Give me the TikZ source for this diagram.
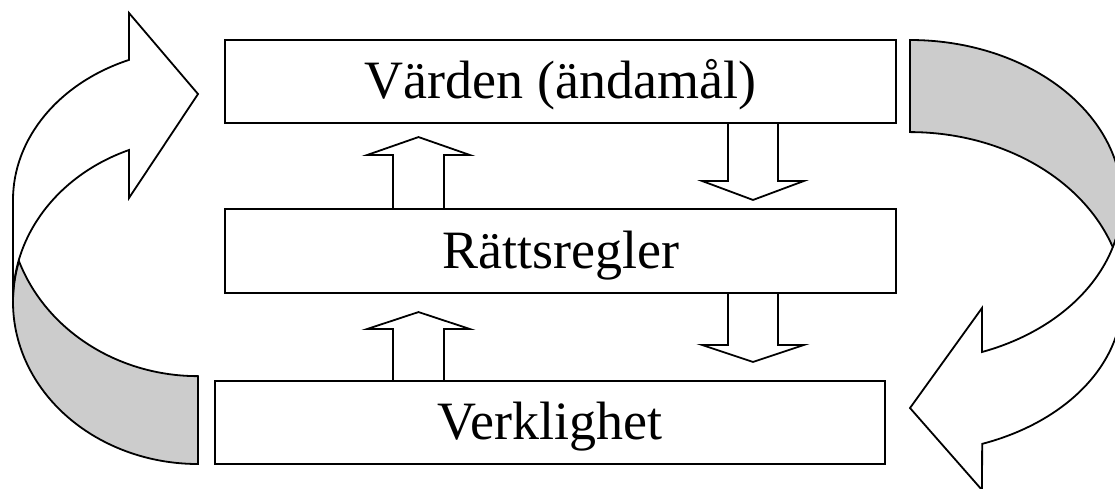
\documentclass[tikz,border=0pt]{standalone}
\usepackage{fontspec}
\setmainfont{Liberation Serif}
\begin{document}
\begin{tikzpicture}[x=1pt,y=-1pt,
  box/.style={draw, line width=1.9pt, inner sep=0pt, text height=40pt, text depth=6pt,
              font=\fontsize{54}{60}\selectfont},
  hollow/.style={draw, line width=1.8pt, line join=miter},
  back/.style={draw, fill=black!20, line width=1.8pt, line join=miter},
  front/.style={draw, fill=white, line width=1.8pt, line join=miter}]
\useasboundingbox (0,0) rectangle (1115,488);
\fill[white] (0,0) rectangle (1115,488);
\clip (0,0) rectangle (1115,488);

% the three levels
\node[box, minimum width=671pt, minimum height=83pt] (top) at (560.5,81.5) {Värden (ändamål)};
\node[box, minimum width=671pt, minimum height=84pt] (mid) at (560.5,251) {Rättsregler};
\node[box, minimum width=670pt, minimum height=83pt] (bot) at (550,422.5) {Verklighet};

% upward block arrows
\draw[hollow] ([xshift=-142pt]mid.north) ++(-25.5,0) -- ++(0,-53) -- ++(-26,0)
  -- ++(51.5,-18) -- ++(51.5,18) -- ++(-26,0) -- ++(0,53);
\draw[hollow] ([xshift=-131.5pt]bot.north) ++(-25.5,0) -- ++(0,-51) -- ++(-26,0)
  -- ++(51.5,-17) -- ++(51.5,17) -- ++(-26,0) -- ++(0,51);

% downward block arrows
\draw[hollow] ([xshift=192.5pt]top.south) ++(-25,0) -- ++(0,57) -- ++(-26,0)
  -- ++(51,19) -- ++(51,-19) -- ++(-26,0) -- ++(0,-57);
\draw[hollow] ([xshift=192.5pt]mid.south) ++(-25,0) -- ++(0,51) -- ++(-26,0)
  -- ++(51,17) -- ++(51,-17) -- ++(-26,0) -- ++(0,-51);

% left loop: underside of the band, then its front with the head
\path[back] (198,464) arc[start angle=90, end angle=194.6, x radius=185, y radius=162]
  arc[start angle=160.4, end angle=90, x radius=190, y radius=173] -- cycle;
\path[front] (13,300) -- (13,200)
  arc[start angle=180, end angle=248.1, x radius=185, y radius=151]
  -- (129,13) -- (198,94) -- (129,198) -- (129,150)
  arc[start angle=248.1, end angle=180, x radius=185, y radius=162] -- cycle;

% right loop
\path[back] (910,40) arc[start angle=270, end angle=376.8, x radius=212, y radius=161]
  arc[start angle=340.8, end angle=270, x radius=215, y radius=172] -- cycle;
\path[front] (1122,201) -- (1122,300)
  arc[start angle=0, end angle=70.1, x radius=212, y radius=153]
  -- (982,490) -- (910,408) -- (982,308) -- (982,352)
  arc[start angle=70.1, end angle=0, x radius=212, y radius=161] -- cycle;
\end{tikzpicture}
\end{document}
